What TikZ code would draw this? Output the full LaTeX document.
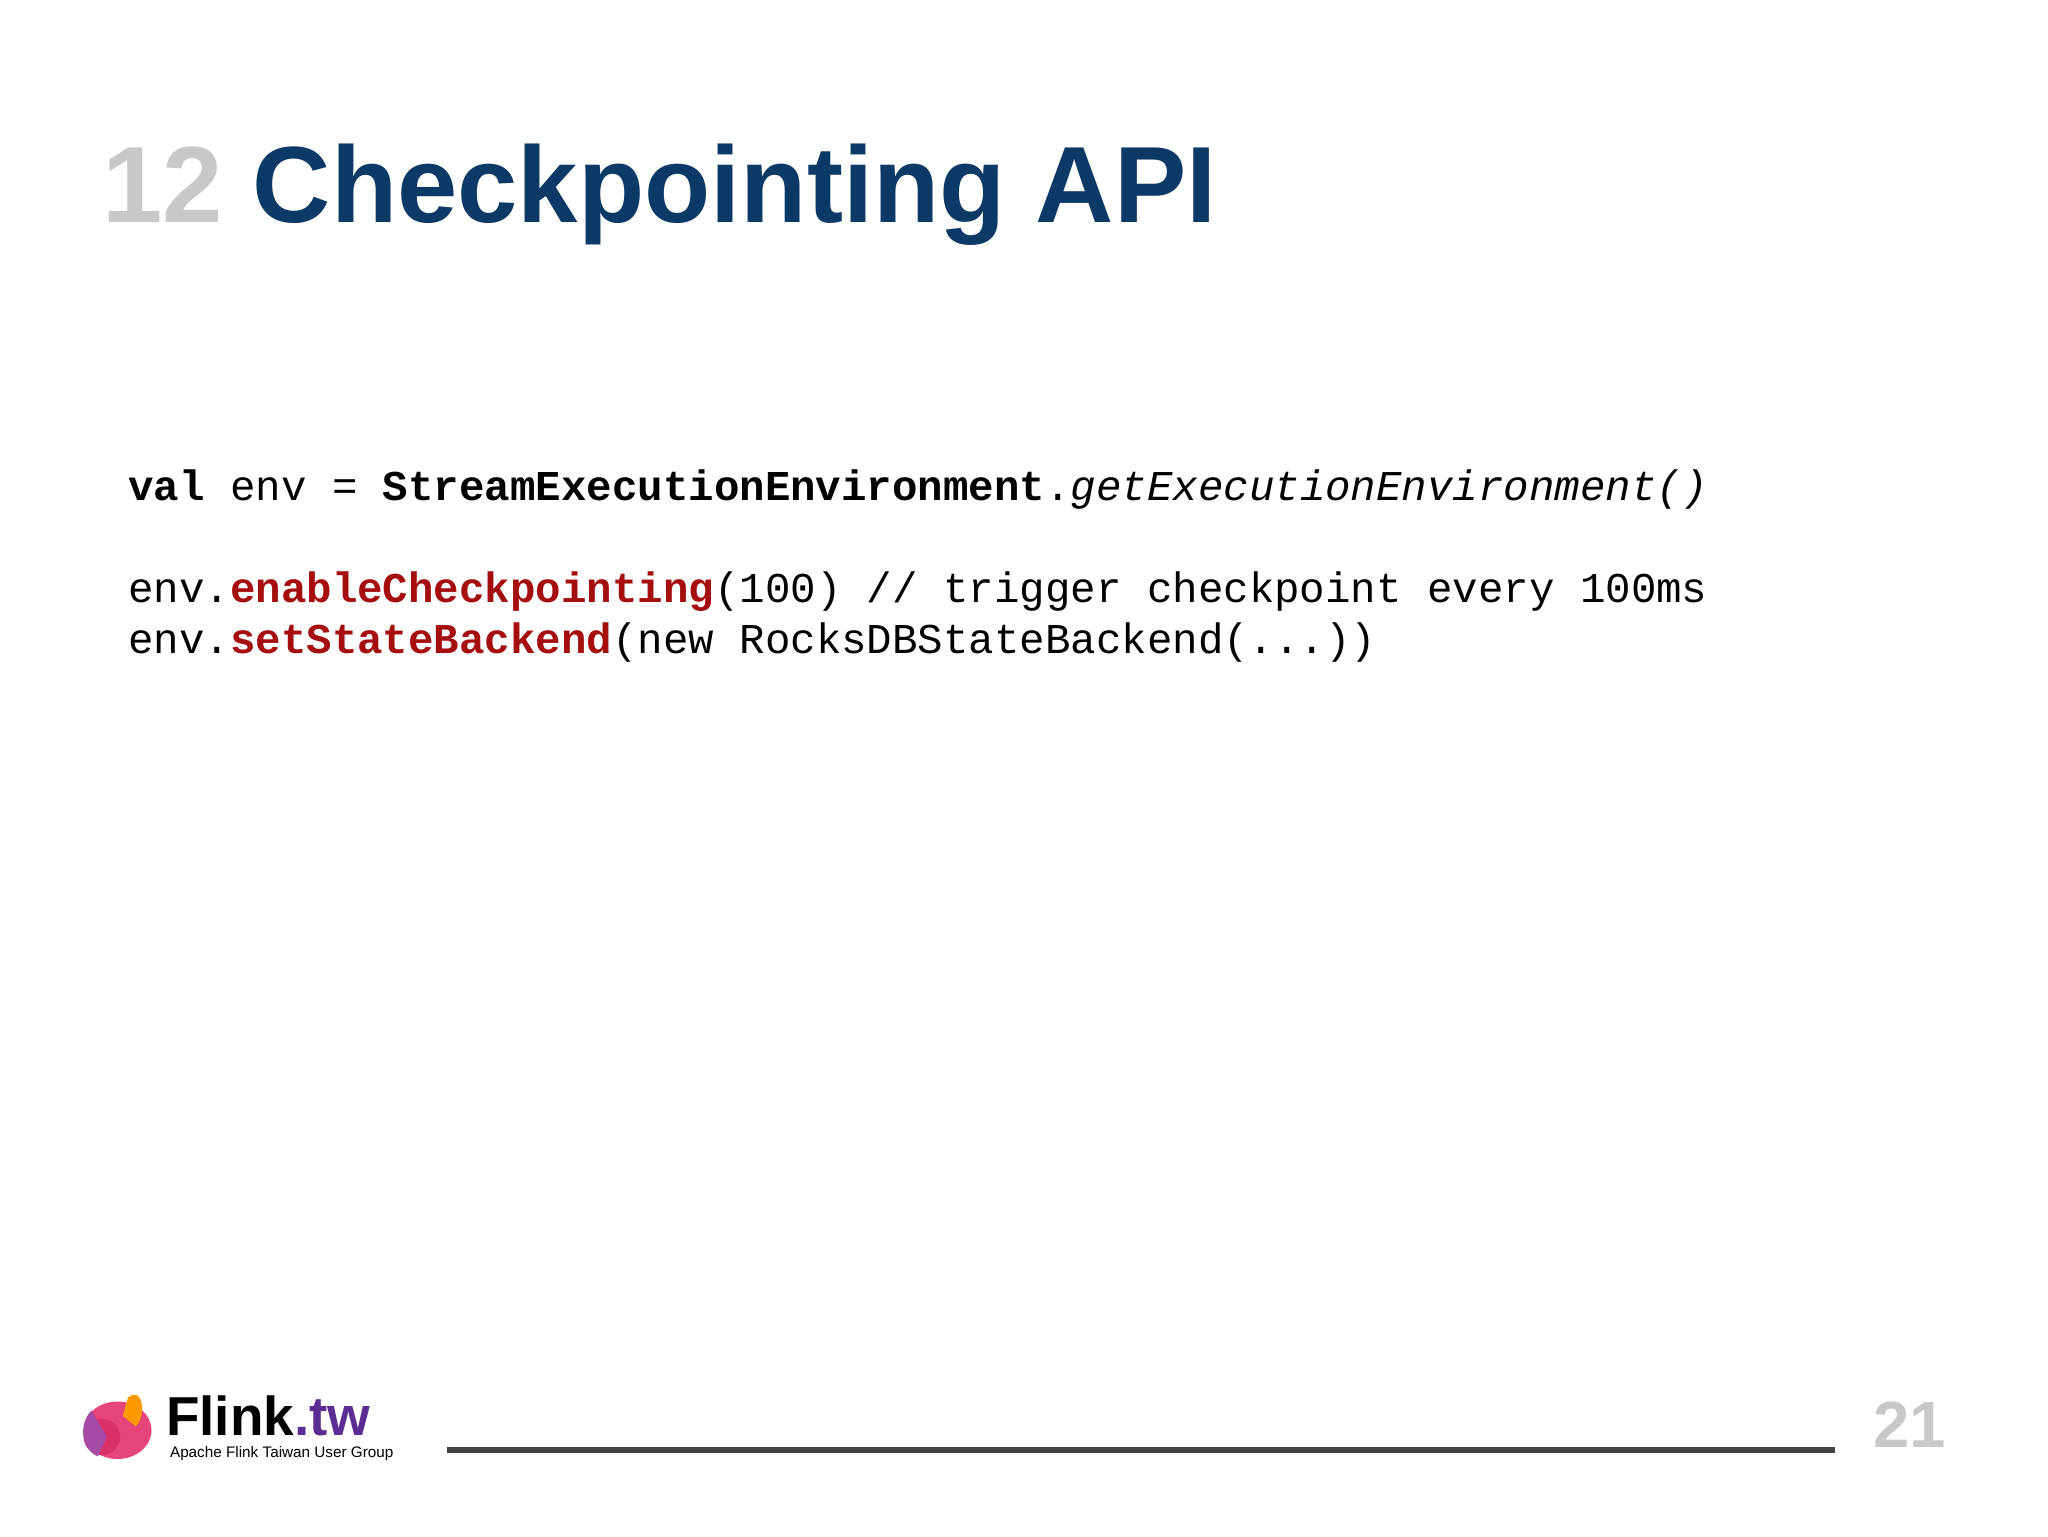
\documentclass[tikz,border=0pt]{standalone}
\usepackage{fontspec}
\setmainfont{Liberation Sans}
\newfontfamily\codefont{Liberation Mono}
\usetikzlibrary{positioning}
\definecolor{titleblue}{HTML}{0B3A66}
\definecolor{numgray}{HTML}{C8C8C8}
\definecolor{kwred}{HTML}{A50E0E}
\definecolor{linegray}{HTML}{444444}
\definecolor{twpurple}{HTML}{5B2C91}
\definecolor{sqpink}{HTML}{E5457A}
\tikzset{code/.style={anchor=base west,inner sep=0,font=\codefont\fontsize{32.5}{36}\selectfont}}
\begin{document}
\begin{tikzpicture}[x=1pt,y=-1pt]
\useasboundingbox (0,0) rectangle (1568,1176);
\fill[white] (0,0) rectangle (1568,1176);
\node[anchor=base west,inner sep=0,font=\bfseries\fontsize{83}{90}\selectfont] (title) at (78,170)
  {\textcolor{numgray}{12} \textcolor{titleblue}{Checkpointing API}};
\node[code] (l1) at (98,383) {\textbf{val} env = \textbf{StreamExecutionEnvironment}.\textit{getExecutionEnvironment()}};
\node[code] (l2) at (98,461) {env.\textcolor{kwred}{\textbf{enableCheckpointing}}(100) // trigger checkpoint every 100ms};
\node[code] (l3) at (98,500) {env.\textcolor{kwred}{\textbf{setStateBackend}}(new RocksDBStateBackend(...))};
% footer
\coordinate (la) at (342,1110);
\coordinate (lb) at (1405,1110);
\draw[linegray,line width=5] (la) -- (lb);
\node[anchor=base east,inner sep=0,text=numgray,font=\bfseries\fontsize{50}{54}\selectfont] (page) at (1490,1108) {21};
% logo
\fill[sqpink] (90,1095) ellipse (26 and 22);
\fill[sqpink!70!purple] (78,1100) circle (14);
\fill[orange!80!yellow] (98,1070) .. controls (110,1060) and (112,1085) .. (104,1092) -- (94,1084) -- cycle;
\fill[violet!70] (70,1080) .. controls (60,1090) and (62,1110) .. (75,1115) -- (82,1100) -- cycle;
\node[anchor=base west,inner sep=0,font=\bfseries\fontsize{42}{46}\selectfont] (flink) at (127,1099) {Flink\textcolor{twpurple}{.tw}};
\node[anchor=base west,inner sep=0,font=\fontsize{11.7}{14}\selectfont] (apache) at (130,1116) {Apache Flink Taiwan User Group};
\end{tikzpicture}
\end{document}
